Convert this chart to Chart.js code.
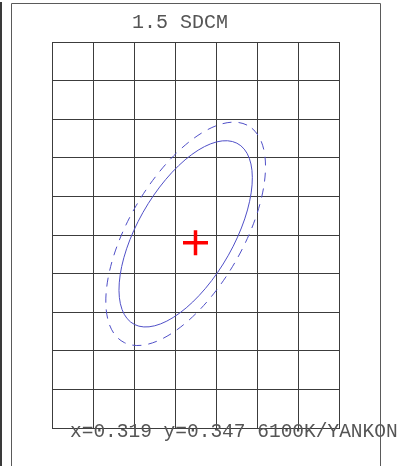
<!DOCTYPE html>
<html>
<head>
<meta charset="utf-8">
<script src="https://cdn.jsdelivr.net/npm/chart.js@4.4.1/dist/chart.umd.min.js"></script>
<style>
  html, body { margin: 0; padding: 0; background: #fff; }
  canvas { display: block; }
</style>
</head>
<body>
<canvas id="sdcmChart" width="403" height="466"></canvas>
<script>
// grid lines (chromaticity x / y)
const xTicks = [0.3155, 0.3165, 0.3175, 0.3185, 0.3195, 0.3205, 0.3215, 0.3225];
const yTicks = [0.342, 0.343, 0.344, 0.345, 0.346, 0.347, 0.348, 0.349, 0.350, 0.351, 0.352];

// measured point
const pointX = [0.3190];
const pointY = [0.3468];

// ellipses: inner solid, outer dashed
const ellipseCx = [0.31876, 0.31876];
const ellipseCy = [0.34703, 0.34703];
const ellipseA = [0.00266, 0.00319];
const ellipseB = [0.00118, 0.00141];
const ellipseAngle = [62, 62];

const titleText = '1.5 SDCM';
const infoText = 'x=0.319 y=0.347 6100K/YANKON';

const ellipseStyles = [
  { color: '#5050c8', dash: [] },
  { color: '#5050c8', dash: [9, 7] }
];

const ellipsePlugin = {
  id: 'ellipses',
  beforeDatasetsDraw(chart) {
    const { ctx, scales } = chart;
    const xs = scales.x;
    const ys = scales.y;
    const kx = (xs.getPixelForValue(xs.max) - xs.getPixelForValue(xs.min)) / (xs.max - xs.min);
    const ky = (ys.getPixelForValue(ys.max) - ys.getPixelForValue(ys.min)) / (ys.max - ys.min);

    ellipseA.forEach((a, i) => {
      ctx.save();
      ctx.beginPath();
      ctx.translate(xs.getPixelForValue(ellipseCx[i]), ys.getPixelForValue(ellipseCy[i]));
      ctx.scale(kx, ky);
      ctx.rotate(ellipseAngle[i] * Math.PI / 180);
      ctx.ellipse(0, 0, a, ellipseB[i], 0, 0, Math.PI * 2);
      ctx.restore();
      ctx.save();
      ctx.strokeStyle = ellipseStyles[i].color;
      ctx.lineWidth = 1;
      ctx.setLineDash(ellipseStyles[i].dash);
      ctx.stroke();
      ctx.restore();
    });
  }
};

const framePlugin = {
  id: 'frame',
  beforeDraw(chart) {
    const { ctx } = chart;
    ctx.save();
    ctx.fillStyle = '#fff';
    ctx.fillRect(0, 0, chart.width, chart.height);
    ctx.fillStyle = '#3a3a3a';
    ctx.fillRect(0, 2, 2, chart.height);
    ctx.restore();
  },
  afterDraw(chart) {
    const { ctx } = chart;
    ctx.save();
    ctx.fillStyle = '#555';
    ctx.textBaseline = 'alphabetic';
    ctx.font = '20px "Liberation Mono", "Courier New", monospace';
    ctx.textAlign = 'center';
    ctx.fillText(titleText, 180, 28);
    ctx.font = '19.5px "Liberation Mono", "Courier New", monospace';
    ctx.textAlign = 'left';
    ctx.fillText(infoText, 70, 437);

    ctx.strokeStyle = '#5a5a5a';
    ctx.lineWidth = 1;
    ctx.beginPath();
    ctx.moveTo(11.5, chart.height);
    ctx.lineTo(11.5, 3.5);
    ctx.lineTo(380.5, 3.5);
    ctx.lineTo(380.5, chart.height);
    ctx.stroke();
    ctx.restore();
  }
};

function setTicks(values) {
  return (scale) => {
    scale.ticks = values.map((v) => ({ value: v }));
  };
}

new Chart(document.getElementById('sdcmChart'), {
  type: 'scatter',
  data: {
    datasets: [{
      data: pointX.map((x, i) => ({ x: x, y: pointY[i] })),
      pointStyle: 'cross',
      pointRadius: 12.5,
      borderColor: '#ff0000',
      borderWidth: 3.5,
      backgroundColor: '#ff0000'
    }]
  },
  options: {
    responsive: false,
    animation: false,
    events: [],
    layout: { padding: { left: 52, top: 42, right: 64, bottom: 38 } },
    plugins: {
      legend: { display: false },
      tooltip: { enabled: false }
    },
    scales: {
      x: {
        type: 'linear',
        min: xTicks[0],
        max: xTicks[xTicks.length - 1],
        afterBuildTicks: setTicks(xTicks),
        ticks: { display: false },
        grid: { color: '#3c3c3c', lineWidth: 1, drawTicks: false },
        border: { color: '#3c3c3c' }
      },
      y: {
        type: 'linear',
        min: yTicks[0],
        max: yTicks[yTicks.length - 1],
        afterBuildTicks: setTicks(yTicks),
        ticks: { display: false },
        grid: { color: '#3c3c3c', lineWidth: 1, drawTicks: false },
        border: { color: '#3c3c3c' }
      }
    }
  },
  plugins: [framePlugin, ellipsePlugin]
});
</script>
</body>
</html>
